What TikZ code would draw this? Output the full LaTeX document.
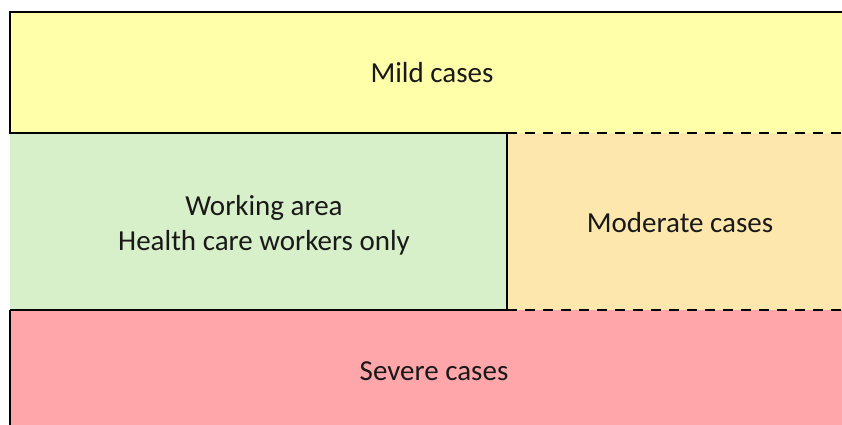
\documentclass[tikz,border=0pt]{standalone}
\usepackage{fontspec}
\setmainfont{Carlito}
\definecolor{mildfill}{HTML}{FFFFAA}
\definecolor{workfill}{HTML}{D8F0CA}
\definecolor{modfill}{HTML}{FDE7AD}
\definecolor{sevfill}{HTML}{FFA6AB}
\begin{document}
\begin{tikzpicture}[x=1pt,y=-1pt,
    zone/.style={align=center,font=\fontsize{29}{35}\selectfont,text=black!90},
    wall/.style={line width=2pt},
    openwall/.style={line width=2pt,dash pattern=on 10pt off 8pt}]
  \useasboundingbox[fill=white] (0,0) rectangle (842,425);
  % corners of the areas
  \coordinate (topL) at (10,12);
  \coordinate (topR) at (842,12);
  \coordinate (midL) at (10,133);
  \coordinate (midC) at (507,133);
  \coordinate (midR) at (842,133);
  \coordinate (lowL) at (10,310);
  \coordinate (lowC) at (507,310);
  \coordinate (lowR) at (842,310);
  \coordinate (botL) at (10,425);
  \coordinate (botR) at (842,425);
  % areas
  \fill[mildfill] (topL) rectangle (midR);
  \fill[workfill] (midL) rectangle (lowC);
  \fill[modfill] (midC) rectangle (lowR);
  \fill[sevfill] (lowL) rectangle (botR);
  \node[zone] (mild) at (432,73) {Mild cases};
  \node[zone] (work) at (264,225) {Working area\\Health care workers only};
  \node[zone] (moderate) at (680,223) {Moderate cases};
  \node[zone] (severe) at (434,371) {Severe cases};
  % walls
  \draw[wall] (topR) -- (topL) -- (midL) -- (midC) -- (lowC) -- (lowL);
  \draw[wall] (lowL) -- (botL);
  \draw[openwall] (midC) -- (midR);
  \draw[openwall] (lowC) -- (lowR);
\end{tikzpicture}
\end{document}
